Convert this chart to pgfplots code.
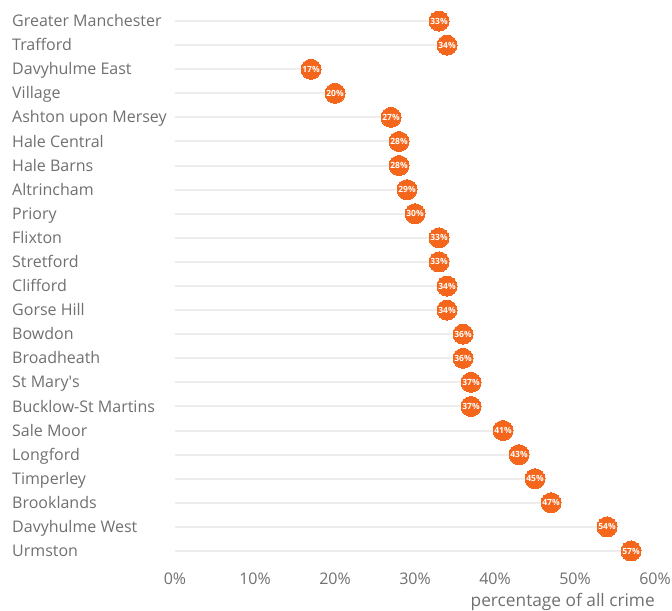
\documentclass[border=0pt]{standalone}
\usepackage{pgfplots}
\pgfplotsset{compat=1.18}
\usepackage{pgfplotstable}
\usepackage{fontspec}
\setmainfont{Open Sans}
\definecolor{dotorange}{HTML}{F4661B}
\definecolor{labgrey}{HTML}{707070}
\definecolor{linegrey}{HTML}{EDEDED}
\pgfplotstableread{
y x
0 33
1 34
2 17
3 20
4 27
5 28
6 28
7 29
8 30
9 33
10 33
11 34
12 34
13 36
14 36
15 37
16 37
17 41
18 43
19 45
20 47
21 54
22 57
}\crimedata
\begin{document}
\begin{tikzpicture}
\begin{axis}[
  scale only axis, width=480pt, height=554pt,
  xmin=0, xmax=60, ymin=-0.5, ymax=22.5, y dir=reverse,
  clip=false,
  axis line style={draw=none}, major tick length=0,
  /pgf/number format/assume math mode=true,
  xtick={0,10,...,60},
  xticklabel={\pgfmathprintnumber{\tick}\%},
  ytick={0,...,22},
  yticklabels={Greater Manchester, Trafford, Davyhulme East, Village, Ashton upon Mersey, Hale Central, Hale Barns, Altrincham, Priory, Flixton, Stretford, Clifford, Gorse Hill, Bowdon, Broadheath, {St Mary\textquotesingle s}, Bucklow-St Martins, Sale Moor, Longford, Timperley, Brooklands, Davyhulme West, Urmston},
  yticklabel style={anchor=base west, inner sep=0pt, xshift=-163pt, yshift=-5.6pt, text=labgrey, font=\fontsize{16}{18}\selectfont},
  xticklabel style={text=labgrey, font=\fontsize{16}{18}\selectfont, anchor=north, inner sep=0pt, yshift=-10pt},
  xlabel={percentage of all crime},
  xlabel style={at={(axis description cs:1,0)}, anchor=north east, inner sep=0pt, yshift=-30pt, text=labgrey, font=\fontsize{17.3}{19}\selectfont},
]
\addplot[xcomb, draw=linegrey, line width=2pt, mark=none] table[x=x, y=y] {\crimedata};
\addplot[only marks, color=dotorange, mark=*, mark size=10pt, mark options={fill=dotorange, draw=dotorange, line width=0pt},
  point meta=x,
  nodes near coords={\pgfmathprintnumber{\pgfplotspointmeta}\%},
  nodes near coords style={anchor=center, inner sep=0pt, text=white, font=\bfseries\fontsize{8.5}{9}\selectfont}]
  table[x=x, y=y] {\crimedata};
\end{axis}
\path ([shift={(-175pt,-47pt)}]current axis.south west) rectangle ([shift={(17pt,9pt)}]current axis.north east);
\end{tikzpicture}
\end{document}
